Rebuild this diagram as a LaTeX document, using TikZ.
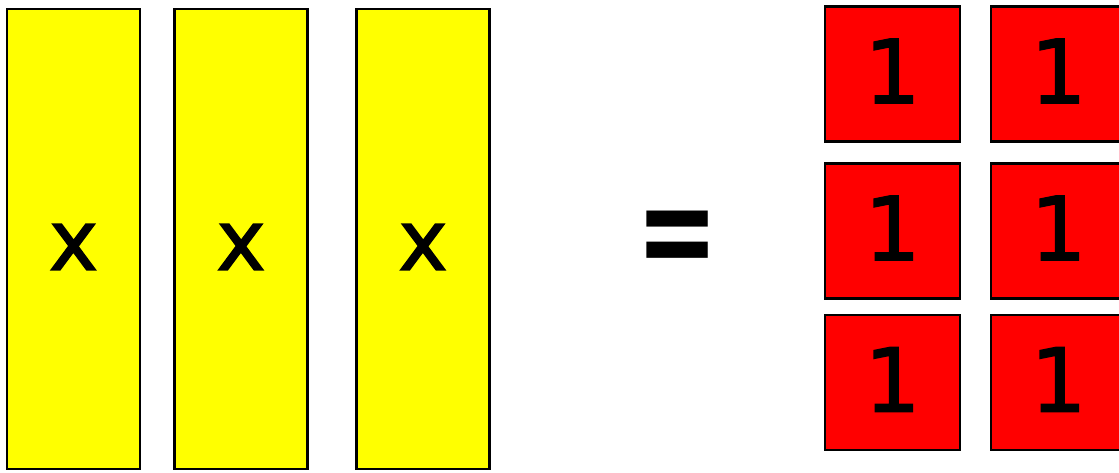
\documentclass[tikz,border=0pt]{standalone}
\usepackage{graphicx}
\usepackage{fontspec}
\newfontfamily\glyphfont{DejaVu Sans}[FakeBold=1.6]
\newfontfamily\glyphbold{DejaVu Sans Bold}
\definecolor{tileyellow}{HTML}{FFFF00}
\definecolor{tilered}{HTML}{FF0000}
\tikzset{
  xtile/.style={draw=black, line width=2.4pt, fill=tileyellow, minimum width=133pt, minimum height=460pt, inner sep=0pt},
  unittile/.style={draw=black, line width=2.4pt, fill=tilered, minimum width=135pt, minimum height=135pt, inner sep=0pt},
  xlabel/.style={inner sep=0pt, font=\glyphfont\fontsize{84}{84}\selectfont},
  onelabel/.style={inner sep=0pt, font=\glyphfont\fontsize{88}{88}\selectfont},
  eqlabel/.style={inner sep=0pt, font=\glyphbold\fontsize{100}{100}\selectfont}
}
\begin{document}
\begin{tikzpicture}[x=1pt,y=-1pt]
\useasboundingbox (0,0) rectangle (1119,472);
\clip (0,0) rectangle (1119,472);
% x-tiles
\node[xtile] (x1) at (73.5,239) {};
\node[xtile] (x2) at (241,239) {};
\node[xtile] (x3) at (423,239) {};
\node[xlabel] (lx1) at (73.5,247) {x};
\node[xlabel] (lx2) at (241,247) {x};
\node[xlabel] (lx3) at (423,247) {x};
% equals
\node[eqlabel] (eq) at (677.5,245) {\scalebox{0.98}[1.4]{=}};
% unit tiles
\foreach \c/\cx in {1/892.5,2/1058.5}{
  \foreach \r/\ry in {1/74,2/231,3/382.5}{
    \node[unittile] (u\r\c) at (\cx,\ry) {};
    \node[onelabel] (l\r\c) at (\cx,\ry-3) {1};
  }
}
\end{tikzpicture}
\end{document}
